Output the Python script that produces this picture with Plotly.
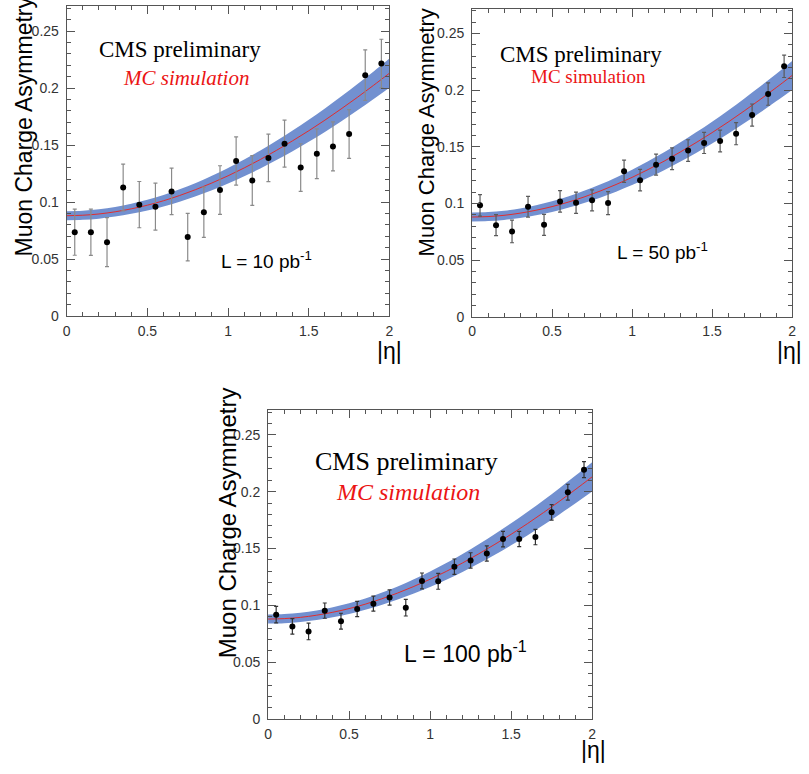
import plotly.graph_objects as go

W, H = 809, 774

# ---- data ----
eta = [0.05, 0.15, 0.25, 0.35, 0.45, 0.55, 0.65, 0.75, 0.85, 0.95,
       1.05, 1.15, 1.25, 1.35, 1.45, 1.55, 1.65, 1.75, 1.85, 1.95]

asym_10 = [0.0735, 0.0735, 0.0648, 0.1128, 0.0977, 0.0959, 0.1093, 0.0692, 0.0910, 0.1105,
           0.1360, 0.1189, 0.1387, 0.1512, 0.1302, 0.1424, 0.1488, 0.1596, 0.2113, 0.2215]
err_10 = [0.0202, 0.0203, 0.0215, 0.0205, 0.0203, 0.0206, 0.0204, 0.0209, 0.0221, 0.0213,
          0.0212, 0.0218, 0.0209, 0.0206, 0.0209, 0.0218, 0.0215, 0.0214, 0.0221, 0.0213]

asym_50 = [0.0983, 0.0808, 0.0753, 0.0971, 0.0811, 0.1018, 0.1006, 0.1027, 0.1003, 0.1284,
           0.1205, 0.1342, 0.1394, 0.1467, 0.1534, 0.1552, 0.1616, 0.1780, 0.1966, 0.2211]
err_50 = [0.0095, 0.0093, 0.0100, 0.0092, 0.0093, 0.0095, 0.0093, 0.0093, 0.0102, 0.0098,
          0.0095, 0.0093, 0.0096, 0.0095, 0.0093, 0.0096, 0.0098, 0.0098, 0.0099, 0.0099]

asym_100 = [0.0919, 0.0815, 0.0771, 0.0954, 0.0861, 0.0969, 0.1015, 0.1070, 0.0980, 0.1215,
            0.1212, 0.1340, 0.1395, 0.1456, 0.1583, 0.1583, 0.1601, 0.1818, 0.1995, 0.2193]
err_100 = [0.0073, 0.0068, 0.0073, 0.0067, 0.0070, 0.0067, 0.0066, 0.0067, 0.0073, 0.0070,
           0.0070, 0.0068, 0.0068, 0.0067, 0.0068, 0.0067, 0.0068, 0.0068, 0.0070, 0.0070]

fit_x = [0.0, 0.1, 0.2, 0.3, 0.4, 0.5, 0.6, 0.7, 0.8, 0.9, 1.0,
         1.1, 1.2, 1.3, 1.4, 1.5, 1.6, 1.7, 1.8, 1.9, 2.0]
fit_y = [0.0880, 0.0884, 0.0895, 0.0914, 0.0940, 0.0972, 0.1011, 0.1057, 0.1109, 0.1167, 0.1230,
         0.1299, 0.1373, 0.1453, 0.1537, 0.1625, 0.1718, 0.1816, 0.1917, 0.2022, 0.2130]
fit_band = [0.0040, 0.0040, 0.0041, 0.0042, 0.0044, 0.0047, 0.0050, 0.0054, 0.0058, 0.0063, 0.0068,
            0.0073, 0.0079, 0.0085, 0.0091, 0.0097, 0.0103, 0.0109, 0.0115, 0.0121, 0.0128]

x_ticks = [0, 0.5, 1, 1.5, 2]
x_tick_labels = ["0", "0.5", "1", "1.5", "2"]
y_ticks = [0, 0.05, 0.1, 0.15, 0.2, 0.25]
y_tick_labels = ["0", "0.05", "0.1", "0.15", "0.2", "0.25"]

y_title = "Muon Charge Asymmetry"
x_title = "|η|"
cms_text = "CMS preliminary"
mc_text = "MC simulation"
lumi_labels = ["L = 10 pb<sup>-1</sup>", "L = 50 pb<sup>-1</sup>", "L = 100 pb<sup>-1</sup>"]

# ---- layout helpers (pixel -> paper) ----
def px(x):
    return x / W

def py(y):
    return 1 - y / H

panels = [
    # plot box (left, top, right, bottom) in pixels
    dict(box=(63.3, 6, 389.3, 319.3), y=asym_10, e=err_10, ecol="#8a8a8a"),
    dict(box=(472.7, 8.7, 796, 320), y=asym_50, e=err_50, ecol="#5a5a5a"),
    dict(box=(266.7, 414, 594, 726.7), y=asym_100, e=err_100, ecol="#333333"),
]

fig = go.Figure()
SANS = "Liberation Sans, Arial, sans-serif"
SERIF = "Liberation Serif, Times New Roman, serif"

band_hi = [f + b for f, b in zip(fit_y, fit_band)]
band_lo = [f - b for f, b in zip(fit_y, fit_band)]

for i, p in enumerate(panels):
    n = "" if i == 0 else str(i + 1)
    xa, ya = "x" + n, "y" + n
    fig.add_trace(go.Scatter(x=fit_x, y=band_lo, xaxis=xa, yaxis=ya, mode="lines",
                             line=dict(width=0, shape="spline"), hoverinfo="skip", showlegend=False))
    fig.add_trace(go.Scatter(x=fit_x, y=band_hi, xaxis=xa, yaxis=ya, mode="lines",
                             line=dict(width=0, shape="spline"), fill="tonexty",
                             fillcolor="rgb(114,144,208)", hoverinfo="skip", showlegend=False))
    fig.add_trace(go.Scatter(x=fit_x, y=fit_y, xaxis=xa, yaxis=ya, mode="lines",
                             line=dict(width=1, color="rgb(225,45,45)", shape="spline"),
                             showlegend=False))
    fig.add_trace(go.Scatter(x=eta, y=p["y"], xaxis=xa, yaxis=ya, mode="markers",
                             marker=dict(color="black", size=6),
                             error_y=dict(type="data", array=p["e"], color=p["ecol"],
                                          thickness=1.2, width=2),
                             showlegend=False))
    l, t, r, b = p["box"]
    axis_common = dict(showgrid=False, zeroline=False, showline=True, linecolor="#555",
                       linewidth=1, mirror="ticks", ticks="inside", tickcolor="#555",
                       tickfont=dict(family=SANS, size=14, color="#333"))
    fig.layout["xaxis" + n] = dict(
        axis_common, domain=[px(l), px(r)], range=[0, 2], anchor=ya,
        tickvals=x_ticks, ticktext=x_tick_labels, ticklen=8, ticklabelstandoff=2,
        minor=dict(dtick=0.1, ticks="inside", ticklen=4, tickcolor="#555"))
    fig.layout["yaxis" + n] = dict(
        axis_common, domain=[py(b), py(t)], range=[0, 0.272], anchor=xa,
        tickvals=y_ticks, ticktext=y_tick_labels, ticklen=8, ticklabelstandoff=4,
        minor=dict(dtick=0.01, ticks="inside", ticklen=4, tickcolor="#555"))

ann = []
# y titles
for (cx, cy, sz) in [(20, 128, 23), (427, 134, 22), (226, 528, 24)]:
    ann.append(dict(text=y_title, x=px(cx), y=py(cy), xref="paper", yref="paper",
                    textangle=-90, showarrow=False, xanchor="center", yanchor="middle",
                    font=dict(family=SANS, size=sz, color="black")))
# x titles
for (ax, cy, anc) in [(389, 355, "center"), (808, 355, "right"), (595, 758, "center")]:
    ann.append(dict(text=x_title, x=px(ax), y=py(cy), xref="paper", yref="paper",
                    showarrow=False, xanchor=anc, yanchor="middle",
                    font=dict(family=SANS, size=23, color="black")))
# CMS preliminary
for (cx, cy, sz) in [(177.5, 50, 23), (583, 55, 23), (407, 466, 26)]:
    ann.append(dict(text=cms_text, x=px(cx), y=py(cy), xref="paper", yref="paper",
                    showarrow=False, xanchor="center", yanchor="middle",
                    font=dict(family=SERIF, size=sz, color="black")))
# MC simulation
for (cx, cy, sz, it) in [(184, 79, 21, True), (590, 77, 19, False), (408, 497, 24, True)]:
    txt = "<i>" + mc_text + "</i>" if it else mc_text
    ann.append(dict(text=txt, x=px(cx), y=py(cy), xref="paper", yref="paper",
                    showarrow=False, xanchor="center", yanchor="middle",
                    font=dict(family=SERIF, size=sz, color="rgb(235,20,20)")))
# luminosity
for (lx, cy, sz, t) in [(217, 263, 19, lumi_labels[0]), (616.7, 254, 19, lumi_labels[1]),
                        (401.7, 659, 23, lumi_labels[2])]:
    ann.append(dict(text=t, x=px(lx), y=py(cy), xref="paper", yref="paper",
                    showarrow=False, xanchor="left", yanchor="middle",
                    font=dict(family=SANS, size=sz, color="black")))

fig.update_layout(width=W, height=H, margin=dict(l=0, r=0, t=0, b=0),
                  paper_bgcolor="white", plot_bgcolor="white", annotations=ann,
                  showlegend=False)

fig.write_html("out.html", config={"displayModeBar": False},
               post_script="document.body.style.margin='0';document.body.style.overflow='hidden';")
